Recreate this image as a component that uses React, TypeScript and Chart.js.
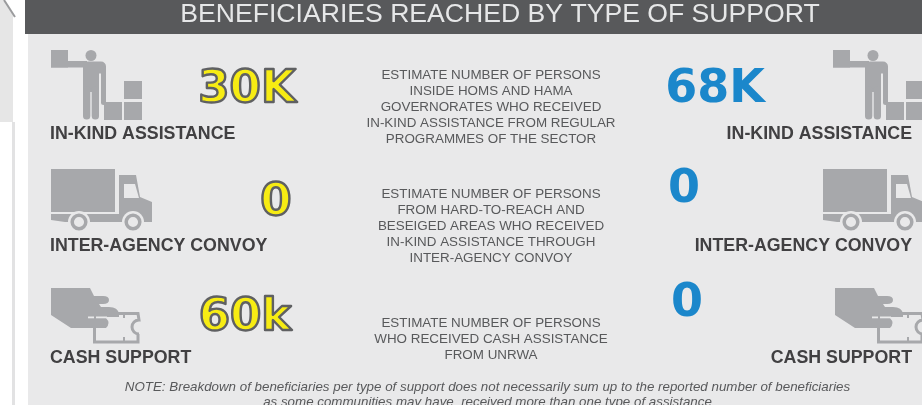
import React, { useEffect, useRef } from "react";
import { Chart, registerables } from "chart.js";

Chart.register(...registerables);

const titleText = "BENEFICIARIES REACHED BY TYPE OF SUPPORT";
const categories = ["IN-KIND ASSISTANCE", "INTER-AGENCY CONVOY", "CASH SUPPORT"];
const leftLabels = ["30K", "0", "60k"];
const rightLabels = ["68K", "0", "0"];
const descriptions = [
  ["ESTIMATE NUMBER OF PERSONS", "INSIDE HOMS AND HAMA", "GOVERNORATES WHO RECEIVED", "IN-KIND ASSISTANCE FROM REGULAR", "PROGRAMMES OF THE SECTOR"],
  ["ESTIMATE NUMBER OF PERSONS", "FROM HARD-TO-REACH AND", "BESEIGED AREAS WHO RECEIVED", "IN-KIND ASSISTANCE THROUGH", "INTER-AGENCY CONVOY"],
  ["ESTIMATE NUMBER OF PERSONS", "WHO RECEIVED CASH ASSISTANCE", "FROM UNRWA"],
];
const noteLines = [
  "NOTE: Breakdown of beneficiaries per type of support does not necessarily sum up to the reported number of beneficiaries",
  "as some communities may have  received more than one type of assistance",
];

const W = 922;
const H = 405;
const GREY = "#a7a8ab";
const PANEL = "#e9e9ea";
const DARK = "#414042";

function icon(w: number, h: number, draw: (c: CanvasRenderingContext2D) => void) {
  const cv = document.createElement("canvas");
  cv.width = w;
  cv.height = h;
  const c = cv.getContext("2d")!;
  c.fillStyle = GREY;
  c.strokeStyle = GREY;
  draw(c);
  return cv;
}

function personIcon() {
  return icon(92, 70, (c) => {
    c.fillRect(0, 0, 17, 17.5);
    c.fillRect(0, 11, 36, 6.5);
    c.beginPath();
    c.arc(40, 5.5, 5.5, 0, Math.PI * 2);
    c.fill();
    c.beginPath();
    c.roundRect(32, 11.5, 23, 12, 5);
    c.fill();
    c.fillRect(32, 15, 16, 27);
    c.beginPath();
    c.roundRect(50, 15, 5, 40, 2.5);
    c.fill();
    c.beginPath();
    c.roundRect(32, 36, 7.3, 33.5, 3.5);
    c.fill();
    c.beginPath();
    c.roundRect(40.7, 36, 7.3, 33.5, 3.5);
    c.fill();
    c.fillRect(53, 52, 18, 18);
    c.fillRect(73, 52, 18, 18);
    c.fillRect(73, 31, 18, 18);
  });
}

function truckIcon() {
  return icon(102, 62, (c) => {
    c.fillRect(0, 0, 64, 43);
    c.beginPath();
    c.moveTo(68, 6);
    c.lineTo(85, 6);
    c.lineTo(89, 28);
    c.lineTo(101, 33);
    c.lineTo(101, 53);
    c.lineTo(14, 53);
    c.lineTo(0, 51);
    c.lineTo(0, 45);
    c.lineTo(68, 45);
    c.closePath();
    c.fill();
    c.fillStyle = PANEL;
    c.beginPath();
    c.moveTo(73, 15);
    c.lineTo(84, 15);
    c.lineTo(88, 29);
    c.lineTo(73, 29);
    c.closePath();
    c.fill();
    for (const x of [28, 82]) {
      c.fillStyle = PANEL;
      c.beginPath();
      c.arc(x, 53, 11, 0, Math.PI * 2);
      c.fill();
      c.lineWidth = 3.5;
      c.beginPath();
      c.arc(x, 53, 6.8, 0, Math.PI * 2);
      c.stroke();
    }
  });
}

function cashIcon() {
  return icon(90, 56, (c) => {
    c.lineWidth = 3;
    c.beginPath();
    c.moveTo(43.5, 39);
    c.lineTo(43.5, 54);
    c.lineTo(87, 54);
    c.lineTo(87, 46);
    c.arc(88, 39, 7, Math.PI / 2, (Math.PI * 3) / 2);
    c.lineTo(87, 25.5);
    c.lineTo(66, 25.5);
    c.stroke();
    c.fillRect(72, 27, 2, 3);
    c.fillRect(72, 49, 2, 4);
    c.beginPath();
    c.moveTo(0, 0);
    c.lineTo(39, 0);
    c.lineTo(43, 8);
    c.lineTo(52, 8);
    c.quadraticCurveTo(58, 8, 58, 12);
    c.quadraticCurveTo(58, 16, 52, 16);
    c.lineTo(48, 16);
    c.lineTo(50, 19);
    c.lineTo(58, 19);
    c.quadraticCurveTo(67, 19, 68, 26);
    c.lineTo(68, 29);
    c.lineTo(55, 29);
    c.lineTo(55, 30);
    c.quadraticCurveTo(60, 35, 55, 40);
    c.lineTo(20, 40);
    c.lineTo(0, 27);
    c.closePath();
    c.fill();
    c.fillStyle = PANEL;
    c.fillRect(37, 28.5, 6, 1.8);
    c.fillRect(45, 28.5, 11, 1.8);
  });
}

function App() {
  const ref = useRef<HTMLCanvasElement>(null);

  useEffect(() => {
    document.body.style.margin = "0";
    const icons = [personIcon(), truckIcon(), cashIcon()];
    const iconCentersLeft = [
      { x: 97, y: 85 },
      { x: 102, y: 200 },
      { x: 96, y: 316 },
    ];
    const rightOffsets = [782, 772, 784];

    const backdrop = {
      id: "backdrop",
      beforeDraw(chart: Chart) {
        const c = chart.ctx;
        c.save();
        c.fillStyle = "#ffffff";
        c.fillRect(0, 0, W, H);
        c.fillStyle = "#e6e6e6";
        c.beginPath();
        c.moveTo(0, 0);
        c.lineTo(4, 0);
        c.lineTo(13, 15);
        c.lineTo(13, 122);
        c.lineTo(0, 122);
        c.closePath();
        c.fill();
        c.strokeStyle = "#9a9b9d";
        c.lineWidth = 2;
        c.beginPath();
        c.moveTo(4, 0);
        c.lineTo(15, 17);
        c.stroke();
        c.fillStyle = "#e2e2e3";
        c.fillRect(12, 122, 3, H - 122);
        c.fillStyle = PANEL;
        c.fillRect(28, 34, W - 28, H - 34);
        c.fillStyle = "#58595b";
        c.fillRect(25, 0, W - 25, 34);
        c.restore();
      },
    };

    const texts = {
      id: "texts",
      afterDatasetsDraw(chart: Chart) {
        const c = chart.ctx;
        c.save();
        c.textBaseline = "alphabetic";
        c.textAlign = "center";
        c.fillStyle = "#e6e7e8";
        c.font = '26.6px "Liberation Sans"';
        c.fillText(titleText, 500, 22);

        const labelY = [139, 251, 363];
        categories.forEach((t, i) => {
          c.fillStyle = DARK;
          c.font = 'bold 17.8px "Liberation Sans"';
          c.textAlign = "left";
          c.fillText(t, 50, labelY[i]);
          c.textAlign = "right";
          c.fillText(t, 912, labelY[i]);
        });

        const descY = [79, 198, 327];
        c.textAlign = "center";
        c.font = '13.4px "Liberation Sans"';
        c.fillStyle = "#58595b";
        descriptions.forEach((lines, i) => {
          lines.forEach((l, j) => c.fillText(l, 491, descY[i] + j * 15.9));
        });

        c.font = 'italic 13.35px "Liberation Sans"';
        c.fillStyle = "#58595b";
        noteLines.forEach((l, j) => c.fillText(l, 487.5, 391 + j * 15));

        const leftPos = [
          { x: 247, y: 102 },
          { x: 276, y: 215 },
          { x: 245, y: 330 },
        ];
        const rightPos = [
          { x: 715, y: 102 },
          { x: 684, y: 202 },
          { x: 687, y: 316 },
        ];
        c.lineJoin = "round";
        c.font = 'bold 45px "DejaVu Sans"';
        leftLabels.forEach((t, i) => {
          c.fillStyle = "#f7ec13";
          c.fillText(t, leftPos[i].x, leftPos[i].y);
          c.lineWidth = 2.4;
          c.strokeStyle = "#5f6062";
          c.strokeText(t, leftPos[i].x, leftPos[i].y);
        });
        c.font = 'bold 46px "DejaVu Sans"';
        c.fillStyle = "#1b87cb";
        rightLabels.forEach((t, i) => c.fillText(t, rightPos[i].x, rightPos[i].y));
        c.restore();
      },
    };

    const chart = new Chart(ref.current!, {
      type: "scatter",
      data: {
        datasets: [
          {
            label: "Left icons",
            data: iconCentersLeft,
            pointStyle: icons,
            pointRadius: 30,
            clip: false,
          },
          {
            label: "Right icons",
            data: iconCentersLeft.map((p, i) => ({ x: p.x + rightOffsets[i], y: p.y })),
            pointStyle: icons,
            pointRadius: 30,
            clip: false,
          },
        ],
      },
      options: {
        animation: false,
        responsive: false,
        layout: { padding: 0, autoPadding: false },
        plugins: { legend: { display: false }, tooltip: { enabled: false }, title: { display: false } },
        scales: {
          x: { type: "linear", display: false, min: 0, max: W },
          y: { type: "linear", display: false, min: 0, max: H, reverse: true },
        },
      },
      plugins: [backdrop, texts],
    } as any);
    return () => chart.destroy();
  }, []);

  return <canvas ref={ref} width={W} height={H} style={{ display: "block" }} />;
}

export default App;
